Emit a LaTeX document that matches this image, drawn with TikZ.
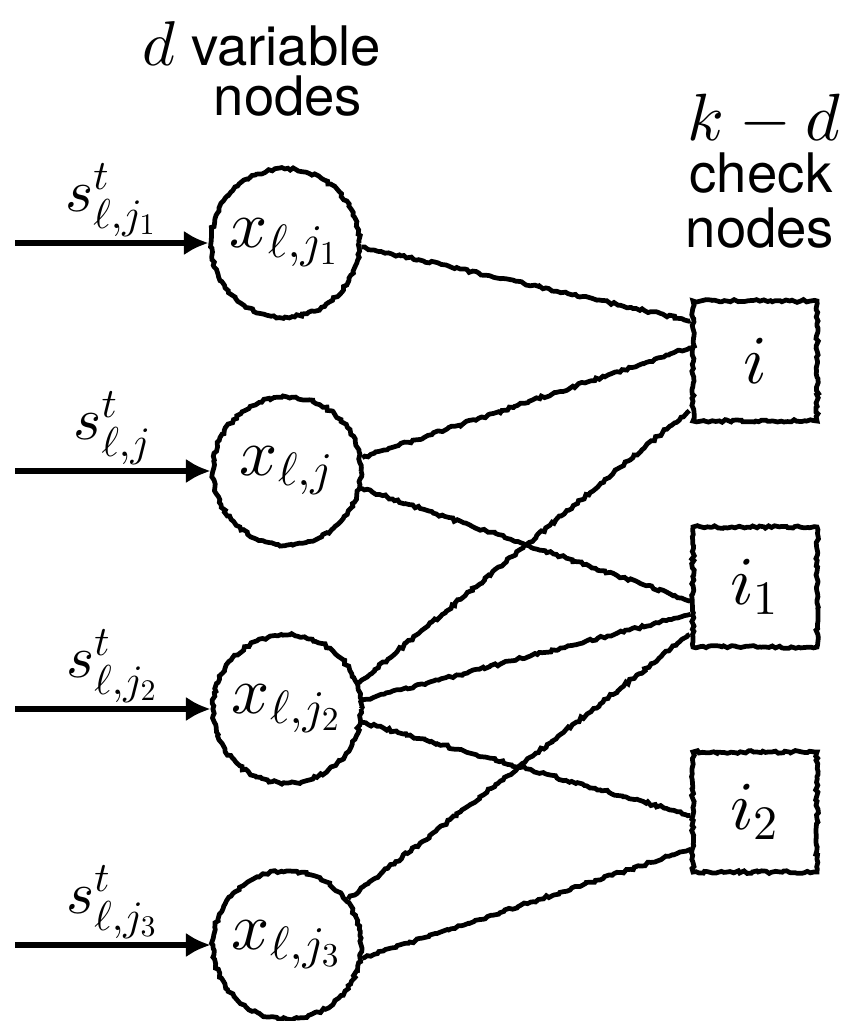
\documentclass[tikz,border=0pt]{standalone}
\usepackage{amsmath}
\usepackage{fontspec}
\setsansfont{TeX Gyre Heros}
\usepackage{tikz}
\usetikzlibrary{arrows.meta}
\usetikzlibrary{decorations.pathmorphing}
% math fonts at any size
\DeclareFontShape{OML}{cmm}{m}{it}{<-6>cmmi5<6-8>cmmi7<8->cmmi10}{}
\DeclareFontShape{OMS}{cmsy}{m}{n}{<-6>cmsy5<6-8>cmsy7<8->cmsy10}{}
\DeclareFontShape{OT1}{cmr}{m}{n}{<-6>cmr5<6-8>cmr7<8->cmr10}{}
\tikzset{rough/.style = {decorate,
                         decoration={random steps, segment length=0.9pt, amplitude=0.4pt}}}
\tikzset{var/.style = {draw, rough, circle, line width=1.35pt, inner sep=0,
                       minimum size=1.48cm, font=\fontsize{19}{21}\selectfont}}
\tikzset{chk/.style = {draw, rough, rectangle, line width=1.35pt, inner sep=0,
                       minimum width=1.24cm, minimum height=1.2cm,
                       font=\fontsize{19.5}{21}\selectfont}}
\tikzset{link/.style = {rough, line width=1.35pt}}
\tikzset{feed/.style = {line width=1.6pt, -{Latex[length=7pt, width=7pt]}}}
\tikzset{msg/.style = {above, inner sep=1pt, font=\fontsize{17}{19}\selectfont}}
\tikzset{head/.style = {anchor=base, inner sep=0, font=\sffamily\fontsize{15.5}{15}\selectfont}}

\begin{document}
\begin{tikzpicture}[x=0.01cm, y=-0.01cm]
    \useasboundingbox (0, 0) rectangle (853, 1021);

    % variable nodes
    \node [var] (x1) at (285, 243) {$x_{\ell,j_1}$};
    \node [var] (x)  at (287, 471) {$x_{\ell,j}$};
    \node [var] (x2) at (287, 709) {$x_{\ell,j_2}$};
    \node [var] (x3) at (287, 945) {$x_{\ell,j_3}$};

    % check nodes
    \node [chk] (c)  at (755, 361) {$i$};
    \node [chk] (c1) at (755, 587) {$i_1$};
    \node [chk] (c2) at (755, 812) {$i_2$};

    % headings, one line each
    \node [head] (vhead)  at (286, 65)  {variable};
    \node [head] (vhead2) at (288, 115) {nodes};
    \node [anchor=base east, inner sep=0, font=\fontsize{18}{18}\selectfont] (dvar) at (176, 65) {$d$};
    \node [anchor=base, inner sep=0, font=\fontsize{19}{19}\selectfont] (kd) at (764, 140) {$k-d$};
    \node [head] (chead)  at (761, 192) {check};
    \node [head] (chead2) at (760, 247) {nodes};

    % incoming messages
    \coordinate (s1) at (15, 243);
    \coordinate (s)  at (15, 471);
    \coordinate (s2) at (15, 709);
    \coordinate (s3) at (15, 945);
    \draw [feed] (s1) -- node [msg] {$s^t_{\ell,j_1}$} (x1.west);
    \draw [feed] (s)  -- node [msg] {$s^t_{\ell,j}$} (x.west);
    \draw [feed] (s2) -- node [msg] {$s^t_{\ell,j_2}$} (x2.west);
    \draw [feed] (s3) -- node [msg] {$s^t_{\ell,j_3}$} (x3.west);

    % edges of the factor graph
    \draw [link] (x1.-3) -- (c.148);
    \draw [link] (x.10)  -- (c.168);
    \draw [link] (x.-13) -- (c1.192);
    \draw [link] (x2.20) -- (c.217);
    \draw [link] (x2.7)  -- (c1.203);
    \draw [link] (x2.-10) -- (c2.183);
    \draw [link] (x3.37) -- (c1.216);
    \draw [link] (x3.-10) -- (c2.210);
\end{tikzpicture}
\end{document}
